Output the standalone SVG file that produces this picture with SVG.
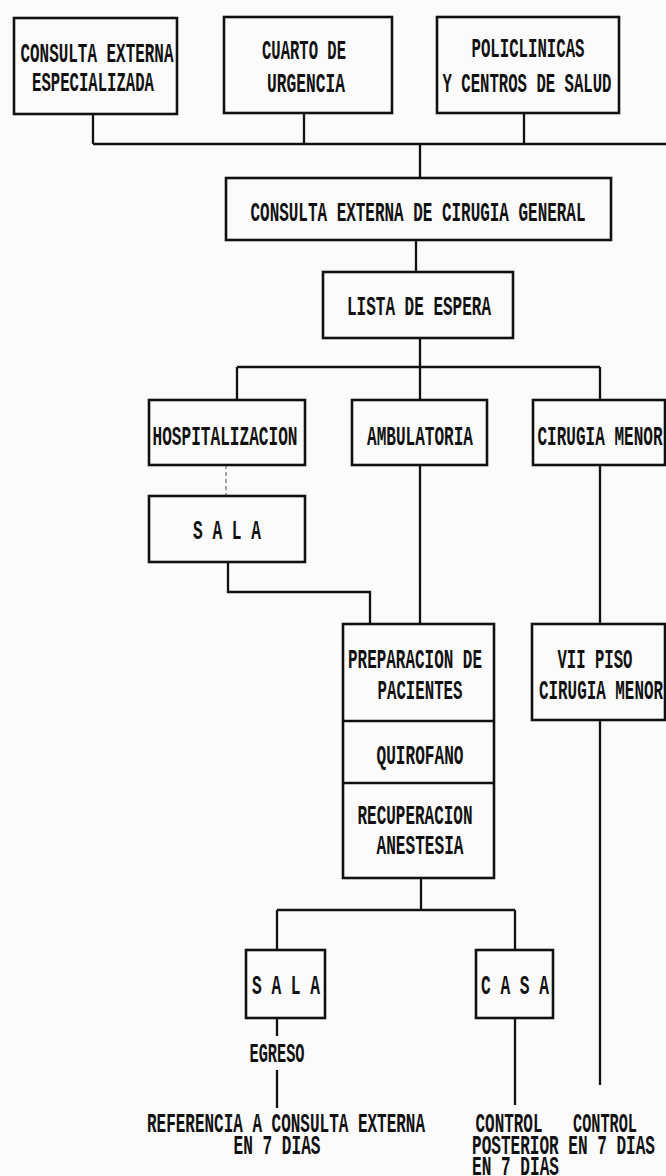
<svg xmlns="http://www.w3.org/2000/svg" width="666" height="1176" viewBox="0 0 666 1176">
<style>
.b{fill:none;stroke:#111;stroke-width:2.6}
.c{fill:none;stroke:#111;stroke-width:2.3}
.f{fill:none;stroke:#9a9a9a;stroke-width:1.8;stroke-dasharray:4 3}
text{font-family:"Liberation Mono","DejaVu Sans Mono",monospace;font-weight:bold;font-size:27px;fill:#111;text-anchor:middle}
.s{text-anchor:start}
</style>
<rect width="666" height="1176" fill="#fbfbfb"/>
<g id="connectors">
<path class="c" d="M93 114V144M304 113V144M524 113V144M93 144H666M420 144V178"/>
<path class="c" d="M416 240V272M420 338V367M237 367H600M237 367V400M420 367V400M600 367V400"/>
<path class="f" d="M226 465V496"/>
<path class="c" d="M228 562V592H370V624M420 465V624M600 465V624M600 720V1085"/>
<path class="c" d="M421 878V910M277 910H515M277 910V950M515 910V950"/>
<path class="c" d="M277 1018V1036M277 1070V1108M515 1018V1105"/>
</g>
<g id="n1"><rect class="b" x="14" y="18" width="163" height="96"/><text x="97" y="62" textLength="153" lengthAdjust="spacingAndGlyphs">CONSULTA EXTERNA</text><text x="93" y="91" textLength="122" lengthAdjust="spacingAndGlyphs">ESPECIALIZADA</text></g>
<g id="n2"><rect class="b" x="224" y="17" width="168" height="96"/><text x="304" y="59" textLength="84" lengthAdjust="spacingAndGlyphs">CUARTO DE</text><text x="306" y="92" textLength="78" lengthAdjust="spacingAndGlyphs">URGENCIA</text></g>
<g id="n3"><rect class="b" x="437" y="17" width="182" height="96"/><text x="528" y="57" textLength="113" lengthAdjust="spacingAndGlyphs">POLICLINICAS</text><text x="527" y="92" textLength="169" lengthAdjust="spacingAndGlyphs">Y CENTROS DE SALUD</text></g>
<g id="n4"><rect class="b" x="226" y="178" width="385" height="62"/><text x="418" y="221" textLength="335" lengthAdjust="spacingAndGlyphs">CONSULTA EXTERNA DE CIRUGIA GENERAL</text></g>
<g id="n5"><rect class="b" x="323" y="272" width="190" height="66"/><text x="419" y="315" textLength="144" lengthAdjust="spacingAndGlyphs">LISTA DE ESPERA</text></g>
<g id="n6"><rect class="b" x="149" y="400" width="156" height="65"/><text x="225" y="445" textLength="145" lengthAdjust="spacingAndGlyphs">HOSPITALIZACION</text></g>
<g id="n7"><rect class="b" x="352" y="400" width="135" height="65"/><text x="420" y="445" textLength="106" lengthAdjust="spacingAndGlyphs">AMBULATORIA</text></g>
<g id="n8"><rect class="b" x="533" y="400" width="132" height="65"/><text x="600" y="445" textLength="125" lengthAdjust="spacingAndGlyphs">CIRUGIA MENOR</text></g>
<g id="n9"><rect class="b" x="149" y="496" width="156" height="66"/><text x="227" y="539" textLength="68" lengthAdjust="spacingAndGlyphs">S A L A</text></g>
<g id="n10"><rect class="b" x="343" y="624" width="151" height="254"/><path class="b" d="M343 721H494M343 783H494"/><text x="415" y="668" textLength="134" lengthAdjust="spacingAndGlyphs">PREPARACION DE</text><text x="420" y="699" textLength="85" lengthAdjust="spacingAndGlyphs">PACIENTES</text><text x="420" y="764" textLength="87" lengthAdjust="spacingAndGlyphs">QUIROFANO</text><text x="415" y="824" textLength="115" lengthAdjust="spacingAndGlyphs">RECUPERACION</text><text x="420" y="854" textLength="87" lengthAdjust="spacingAndGlyphs">ANESTESIA</text></g>
<g id="n11"><rect class="b" x="532" y="624" width="133" height="96"/><text x="595" y="668" textLength="75" lengthAdjust="spacingAndGlyphs">VII PISO</text><text x="601" y="699" textLength="124" lengthAdjust="spacingAndGlyphs">CIRUGIA MENOR</text></g>
<g id="n12"><rect class="b" x="246" y="950" width="79" height="68"/><text x="286" y="994" textLength="68" lengthAdjust="spacingAndGlyphs">S A L A</text></g>
<g id="n13"><rect class="b" x="476" y="950" width="77" height="68"/><text x="515" y="994" textLength="68" lengthAdjust="spacingAndGlyphs">C A S A</text></g>
<g id="labels">
<text x="277" y="1062" textLength="55" lengthAdjust="spacingAndGlyphs">EGRESO</text>
<text x="286" y="1132" textLength="278" lengthAdjust="spacingAndGlyphs">REFERENCIA A CONSULTA EXTERNA</text>
<text x="277" y="1154" textLength="87" lengthAdjust="spacingAndGlyphs">EN 7 DIAS</text>
<text x="509" y="1132" textLength="67" lengthAdjust="spacingAndGlyphs">CONTROL</text>
<text class="s" x="472" y="1154" textLength="183" lengthAdjust="spacingAndGlyphs">POSTERIOR EN 7 DIAS</text>
<text class="s" x="573" y="1132" textLength="64" lengthAdjust="spacingAndGlyphs">CONTROL</text>
<text class="s" x="472" y="1175" textLength="87" lengthAdjust="spacingAndGlyphs">EN 7 DIAS</text>
</g>
</svg>
